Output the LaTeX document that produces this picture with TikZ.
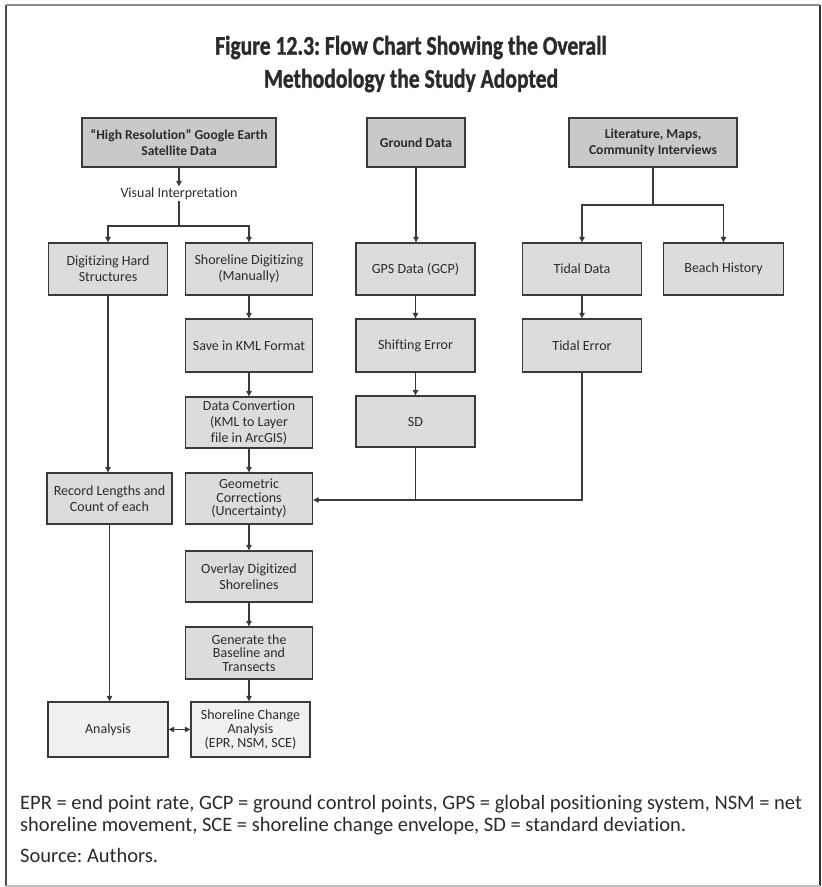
\documentclass[tikz,border=0pt]{standalone}
\usepackage{fontspec}
\setmainfont{Carlito}[Ligatures=NoCommon]
\newfontfamily\titlefont{Carlito Bold}[FakeStretch=0.8, FakeBold=1.2, Ligatures=NoCommon]
\usetikzlibrary{arrows.meta}
\definecolor{ink}{HTML}{2B2B2B}
\definecolor{linecol}{HTML}{3A3A3A}
\definecolor{fillA}{HTML}{C9C9C9}
\definecolor{fillB}{HTML}{DCDCDD}
\definecolor{fillC}{HTML}{EFF0F1}
\tikzset{
  box/.style={draw=linecol, line width=1.4pt, align=center, inner sep=2pt,
    text=ink, font=\fontsize{14}{16}\selectfont},
  topbox/.style={box, fill=fillA, font=\fontsize{13.6}{16}\selectfont\bfseries},
  midbox/.style={box, fill=fillB},
  endbox/.style={box, fill=fillC},
  tight/.style={font=\fontsize{14}{13.8}\selectfont},
  conn/.style={draw=linecol, line width=1.2pt},
  arr/.style={conn, -{Triangle[length=5.5pt,width=5.5pt]}},
  darr/.style={conn, {Triangle[length=5.5pt,width=5.5pt]}-{Triangle[length=5.5pt,width=5.5pt]}},
}
\frenchspacing
\begin{document}
\begin{tikzpicture}[x=1pt,y=-1pt]
\useasboundingbox (0,0) rectangle (822,887);
% outer frame
\draw[color=black!70, line width=1.5pt] (6,5) -- (6,886);
\draw[color=black!80, line width=1.5pt] (820,5) -- (820,886);
\draw[color=black!45, line width=1.5pt] (6,5) -- (820,5);
\draw[color=black!25, line width=1.5pt] (6,886) -- (820,886);

% title
\node[text=ink, align=center, font=\titlefont\fontsize{27}{33}\selectfont] (title) at (411,64)
  {Figure 12.3: Flow Chart Showing the Overall\\Methodology the Study Adopted};

% source row
\node[topbox, minimum width=194pt, minimum height=49pt] (hr) at (179,142.5)
  {“High Resolution” Google Earth\\Satellite Data};
\node[topbox, minimum width=98pt, minimum height=49pt] (gd) at (416,142.5) {Ground Data};
\node[topbox, minimum width=168pt, minimum height=49pt] (lit) at (653,142.5)
  {Literature, Maps,\\Community Interviews};

\node[text=ink, font=\fontsize{14}{16}\selectfont, inner sep=1pt] (vi) at (179,193.5) {Visual Interpretation};

% second row
\node[midbox, minimum width=119pt, minimum height=52pt] (dhs) at (108,269) {Digitizing Hard\\Structures};
\node[midbox, minimum width=127pt, minimum height=52pt] (sdig) at (249,269) {Shoreline Digitizing\\(Manually)};
\node[midbox, minimum width=119pt, minimum height=52pt] (gps) at (415.5,269) {GPS Data (GCP)};
\node[midbox, minimum width=119pt, minimum height=52pt] (td) at (582,269) {Tidal Data};
\node[midbox, minimum width=120pt, minimum height=52pt] (bh) at (723.5,269) {Beach History};

% third row
\node[midbox, minimum width=127pt, minimum height=53pt] (kml) at (249,345.5) {Save in KML Format};
\node[midbox, minimum width=119pt, minimum height=53pt] (se) at (415.5,345.5) {Shifting Error};
\node[midbox, minimum width=119pt, minimum height=53pt] (te) at (582,345.5) {Tidal Error};

% fourth row
\node[midbox, minimum width=127pt, minimum height=51pt] (dc) at (249,422.5)
  {Data Convertion\\(KML to Layer\\file in ArcGIS)};
\node[midbox, minimum width=119pt, minimum height=51pt] (sd) at (415.5,421.5) {SD};

% corrections row
\node[midbox, minimum width=125pt, minimum height=51pt] (rl) at (109.5,498.5)
  {Record Lengths and\\Count of each};
\node[midbox, tight, minimum width=127pt, minimum height=51pt] (gc) at (249,498.5)
  {Geometric\\Corrections\\(Uncertainty)};

\node[midbox, minimum width=127pt, minimum height=51pt] (ov) at (249,576.5)
  {Overlay Digitized\\Shorelines};
\node[midbox, tight, minimum width=127pt, minimum height=52pt] (gen) at (249,653)
  {Generate the\\Baseline and\\Transects};

% analysis row
\node[endbox, minimum width=120pt, minimum height=55pt] (an) at (108,729.5) {Analysis};
\node[endbox, tight, minimum width=119pt, minimum height=55pt] (sca) at (250.5,729.5)
  {Shoreline Change\\Analysis\\(EPR, NSM, SCE)};

% connectors: satellite branch
\draw[arr] (hr.south) -- (vi.north);
\coordinate (visplit) at (179,226);
\draw[conn] (vi.south) -- (visplit);
\draw[arr] (visplit) -| (dhs.north);
\draw[arr] (visplit) -| (sdig.north);
\draw[arr] (dhs.south) -- (dhs.south |- rl.north);
\draw[arr] (rl.south) -- (rl.south |- an.north);
\draw[arr] (sdig.south) -- (kml.north);
\draw[arr] (kml.south) -- (dc.north);
\draw[arr] (dc.south) -- (gc.north);
\draw[arr] (gc.south) -- (ov.north);
\draw[arr] (ov.south) -- (gen.north);
\draw[arr] (gen.south) -- (gen.south |- sca.north);
\draw[darr] (an.east) -- (sca.west);

% connectors: ground data branch
\draw[arr] (gd.south) -- (gd.south |- gps.north);
\draw[arr] (gps.south) -- (se.north);
\draw[arr] (se.south) -- (sd.north);

% connectors: literature branch
\coordinate (litsplit) at (653,205);
\draw[conn] (lit.south) -- (litsplit);
\draw[arr] (litsplit) -| (td.north);
\draw[arr] (litsplit) -| (bh.north);
\draw[arr] (td.south) -- (te.north);

% errors feed the geometric corrections
\coordinate (merge) at (415.5,500);
\draw[conn] (sd.south) -- (merge);
\draw[arr] (te.south) |- (gc.east |- merge);

% notes
\node[anchor=west, text=ink, align=left, font=\fontsize{20.5}{22}\selectfont, inner sep=0pt] (notes) at (20,815)
  {EPR = end point rate, GCP = ground control points, GPS = global positioning system, NSM = net\\
   shoreline movement, SCE = shoreline change envelope, SD = standard deviation.};
\node[anchor=west, text=ink, font=\fontsize{20.5}{22}\selectfont, inner sep=0pt] (source) at (20,855) {Source: Authors.};
\end{tikzpicture}
\end{document}
